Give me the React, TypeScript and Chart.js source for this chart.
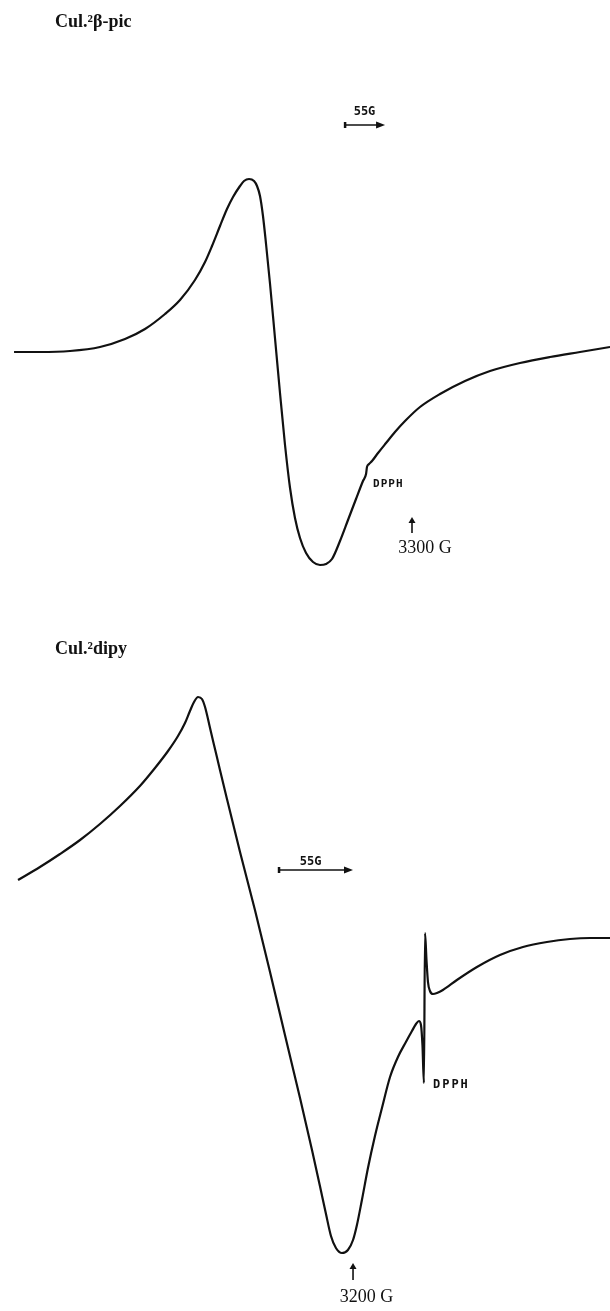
import React, { useEffect, useRef } from "react";
import { Chart, registerables } from "chart.js";

Chart.register(...registerables);

// CuL2·β-picoline: magnetic field (G) and first-derivative EPR signal (arb. units)
const picField = [
  2752.8, 2788.5, 2829.8, 2871.0, 2905.4, 2932.9, 2960.4, 2981.0, 3001.6, 3015.4,
  3025.0, 3036.0, 3045.6, 3053.9, 3063.5, 3069.0, 3075.9, 3082.8, 3086.9, 3091.0,
  3095.1, 3099.3, 3104.8, 3111.6, 3118.5, 3125.4, 3132.3, 3139.1, 3146.0, 3154.3,
  3163.9, 3173.5, 3181.8, 3190.0, 3201.0, 3212.0, 3223.0, 3232.6, 3236.8, 3238.1,
  3240.9, 3245.0, 3253.3, 3264.3, 3276.6, 3290.4, 3311.0, 3338.5, 3372.9, 3407.3,
  3448.5, 3489.8, 3531.0, 3572.3,
];
const picSignal = [
  -0.02, -0.02, -0.01, 0.03, 0.11, 0.21, 0.36, 0.5, 0.7, 0.88,
  1.04, 1.24, 1.41, 1.53, 1.64, 1.69, 1.71, 1.69, 1.64, 1.54,
  1.34, 1.06, 0.66, 0.12, -0.43, -0.95, -1.38, -1.68, -1.88, -2.03,
  -2.12, -2.15, -2.14, -2.09, -1.91, -1.7, -1.49, -1.31, -1.24, -1.17,
  -1.14, -1.11, -1.03, -0.93, -0.82, -0.71, -0.57, -0.44, -0.31, -0.21,
  -0.13, -0.07, -0.02, 0.03,
];

// CuL2·dipy: magnetic field (G) and first-derivative EPR signal (arb. units)
const dipyField = [
  2951.0, 2967.3, 2982.2, 2997.1, 3011.9, 3026.8, 3041.6, 3052.8, 3062.5, 3069.9,
  3075.1, 3078.8, 3081.8, 3084.8, 3087.7, 3090.0, 3092.2, 3094.4, 3097.4, 3101.1,
  3106.3, 3116.0, 3127.1, 3138.3, 3149.4, 3160.6, 3169.5, 3175.4, 3179.9, 3183.6,
  3187.3, 3191.8, 3196.2, 3200.0, 3202.9, 3206.6, 3211.1, 3216.3, 3221.5, 3227.5,
  3233.4, 3239.3, 3243.8, 3246.8, 3249.0, 3250.5, 3251.6, 3252.7, 3253.5, 3254.6,
  3255.7, 3257.2, 3259.4, 3262.4, 3266.8, 3277.2, 3292.1, 3309.2, 3326.3, 3344.1,
  3361.2, 3376.1, 3391.0,
];
const dipySignal = [
  0.2, 0.33, 0.46, 0.6, 0.76, 0.94, 1.14, 1.32, 1.49, 1.64,
  1.77, 1.89, 1.98, 2.03, 2.01, 1.93, 1.81, 1.68, 1.51, 1.3,
  1.01, 0.48, -0.1, -0.72, -1.35, -1.98, -2.5, -2.86, -3.14, -3.36,
  -3.48, -3.53, -3.5, -3.4, -3.25, -3.0, -2.68, -2.36, -2.08, -1.77,
  -1.57, -1.42, -1.31, -1.24, -1.21, -1.25, -1.45, -1.83, -0.33, -0.6,
  -0.82, -0.91, -0.94, -0.93, -0.9, -0.8, -0.67, -0.55, -0.47, -0.42,
  -0.39, -0.38, -0.38,
];

const picTitle = "Cul.²β-pic";
const dipyTitle = "Cul.²dipy";
const scaleBarGauss = 55;
const scaleBarLabel = "55G";
const dpphLabel = "DPPH";
const picMarkerField = 3300;
const picMarkerLabel = "3300 G";
const dipyMarkerField = 3200;
const dipyMarkerLabel = "3200 G";

type Panel = {
  field: number[];
  signal: number[];
  width: number;
  height: number;
  xMin: number;
  xMax: number;
  yMin: number;
  yMax: number;
  title: string;
  titlePos: { x: number; y: number };
  bar: { start: number; y: number; labelX: number; labelY: number };
  dpph: { x: number; y: number; spacing: number; size: number };
  marker: { field: number; top: number; bottom: number; label: string; labelX: number; labelY: number };
};

const INK = "#111";

const panels: Panel[] = [
  {
    field: picField,
    signal: picSignal,
    width: 610,
    height: 620,
    xMin: 2733.5,
    xMax: 3572.25,
    yMin: -2.7,
    yMax: 3.5,
    title: picTitle,
    titlePos: { x: 55, y: 27 },
    bar: { start: 3208, y: 2.25, labelX: 3234.7, labelY: 2.35 },
    dpph: { x: 3246.4, y: -1.37, spacing: 1, size: 11 },
    marker: { field: picMarkerField, top: -1.67, bottom: -1.83, label: picMarkerLabel, labelX: 3317.9, labelY: -2.03 },
  },
  {
    field: dipyField,
    signal: dipySignal,
    width: 610,
    height: 691,
    xMin: 2937.6,
    xMax: 3391.0,
    yMin: -4.11,
    yMax: 2.8,
    title: dipyTitle,
    titlePos: { x: 55, y: 34 },
    bar: { start: 3145, y: 0.3, labelX: 3168.4, labelY: 0.35 },
    dpph: { x: 3259.4, y: -1.88, spacing: 2, size: 12 },
    marker: { field: dipyMarkerField, top: -3.63, bottom: -3.8, label: dipyMarkerLabel, labelX: 3210, labelY: -4.02 },
  },
];

function makeAnnotations(p: Panel) {
  return {
    id: "spectrumNotes",
    afterDatasetsDraw(chart: any) {
      const { ctx } = chart;
      const xs = chart.scales.x;
      const ys = chart.scales.y;
      ctx.save();
      ctx.fillStyle = INK;
      ctx.strokeStyle = INK;

      // sample title
      ctx.font = "bold 18px 'Liberation Serif', serif";
      ctx.textAlign = "left";
      ctx.textBaseline = "alphabetic";
      ctx.fillText(p.title, p.titlePos.x, p.titlePos.y);

      // field scale bar
      const bx0 = xs.getPixelForValue(p.bar.start);
      const bx1 = xs.getPixelForValue(p.bar.start + scaleBarGauss);
      const by = ys.getPixelForValue(p.bar.y);
      ctx.lineWidth = 1.5;
      ctx.beginPath();
      ctx.moveTo(bx0, by);
      ctx.lineTo(bx1 - 6, by);
      ctx.stroke();
      ctx.lineWidth = 2.5;
      ctx.beginPath();
      ctx.moveTo(bx0, by - 3);
      ctx.lineTo(bx0, by + 3);
      ctx.stroke();
      ctx.beginPath();
      ctx.moveTo(bx1, by);
      ctx.lineTo(bx1 - 9, by - 3.5);
      ctx.lineTo(bx1 - 9, by + 3.5);
      ctx.closePath();
      ctx.fill();
      ctx.font = "bold 12px 'DejaVu Sans Mono', monospace";
      ctx.textAlign = "center";
      ctx.fillText(scaleBarLabel, xs.getPixelForValue(p.bar.labelX), ys.getPixelForValue(p.bar.labelY));

      // DPPH reference line label
      ctx.font = `bold ${p.dpph.size}px 'DejaVu Sans Mono', monospace`;
      ctx.textAlign = "left";
      (ctx as any).letterSpacing = `${p.dpph.spacing}px`;
      ctx.fillText(dpphLabel, xs.getPixelForValue(p.dpph.x), ys.getPixelForValue(p.dpph.y));
      (ctx as any).letterSpacing = "0px";

      // field marker arrow
      const mx = xs.getPixelForValue(p.marker.field);
      const mTop = ys.getPixelForValue(p.marker.top);
      const mBot = ys.getPixelForValue(p.marker.bottom);
      ctx.lineWidth = 1.6;
      ctx.beginPath();
      ctx.moveTo(mx, mBot);
      ctx.lineTo(mx, mTop + 4);
      ctx.stroke();
      ctx.beginPath();
      ctx.moveTo(mx, mTop);
      ctx.lineTo(mx - 3.5, mTop + 6);
      ctx.lineTo(mx + 3.5, mTop + 6);
      ctx.closePath();
      ctx.fill();
      ctx.font = "18px 'Liberation Serif', serif";
      ctx.textAlign = "center";
      ctx.fillText(p.marker.label, xs.getPixelForValue(p.marker.labelX), ys.getPixelForValue(p.marker.labelY));

      ctx.restore();
    },
  };
}

function SpectrumPanel({ panel }: { panel: Panel }) {
  const ref = useRef<HTMLCanvasElement | null>(null);

  useEffect(() => {
    if (!ref.current) return;
    const chart = new Chart(ref.current, {
      type: "line",
      data: {
        datasets: [
          {
            data: panel.field.map((x, i) => ({ x, y: panel.signal[i] })),
            borderColor: INK,
            borderWidth: 2.2,
            pointRadius: 0,
            fill: false,
            cubicInterpolationMode: "monotone",
          },
        ],
      },
      options: {
        animation: false,
        responsive: false,
        events: [],
        layout: { padding: 0 },
        plugins: { legend: { display: false }, tooltip: { enabled: false } },
        scales: {
          x: { type: "linear", display: false, min: panel.xMin, max: panel.xMax },
          y: { type: "linear", display: false, min: panel.yMin, max: panel.yMax },
        },
      },
      plugins: [makeAnnotations(panel)],
    } as any);
    return () => chart.destroy();
  }, [panel]);

  return (
    <canvas
      ref={ref}
      width={panel.width}
      height={panel.height}
      style={{ display: "block", width: panel.width, height: panel.height }}
    />
  );
}

export default function App() {
  return (
    <div style={{ position: "absolute", left: 0, top: 0, width: 610, height: 1311, background: "#fff" }}>
      {panels.map((p, i) => (
        <SpectrumPanel key={i} panel={p} />
      ))}
    </div>
  );
}
